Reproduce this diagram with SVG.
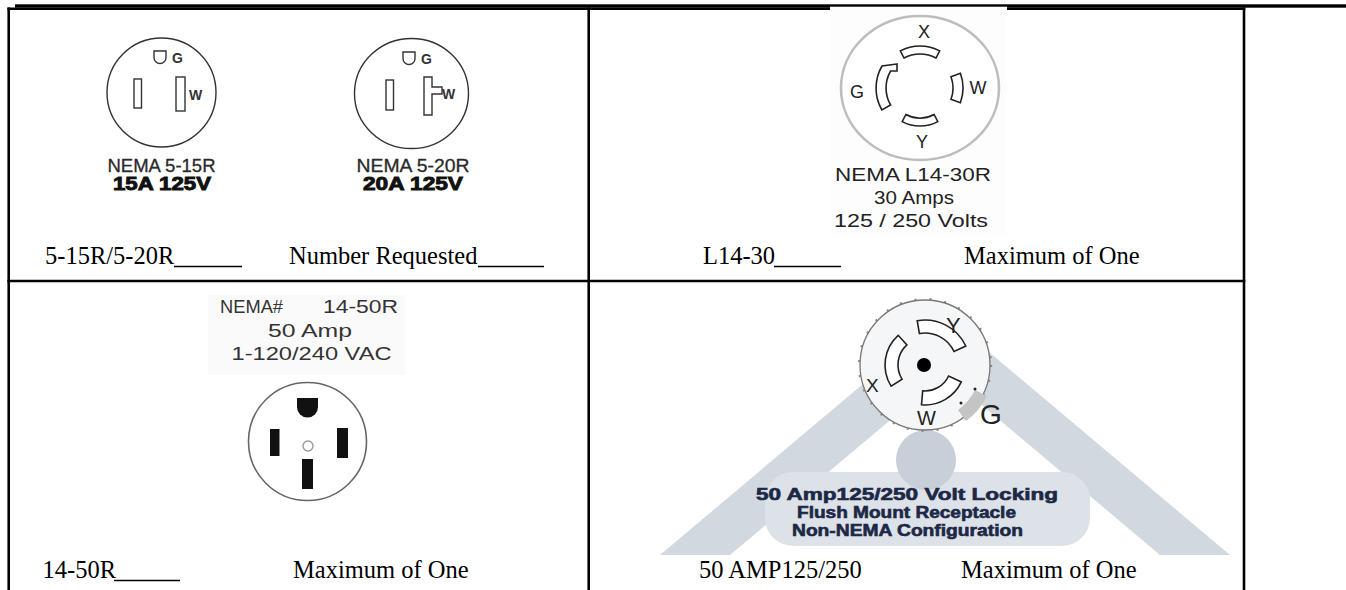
<svg xmlns="http://www.w3.org/2000/svg" width="1346" height="590" viewBox="0 0 1346 590">
<style>
.grid{stroke:#000;stroke-width:2.6;fill:none}
.ser{font-family:"Liberation Serif","Times New Roman",serif;font-size:24.5px;fill:#000}
.ul{stroke:#000;stroke-width:1.6}
.sans{font-family:"Liberation Sans",Arial,sans-serif}
.lbl{font-family:"Liberation Sans",Arial,sans-serif;font-weight:bold;font-size:14px;fill:#333}
.ol{fill:#fff;stroke:#333;stroke-width:1.4}
.blade{fill:#fff;stroke:#222;stroke-width:1.6}
.nema{font-family:"Liberation Sans",Arial,sans-serif;fill:#2a2a2a;stroke:#2a2a2a;stroke-width:0.3;font-size:18px}
.heavy{font-family:"Liberation Sans",Arial,sans-serif;font-weight:bold;fill:#111;stroke:#111;stroke-width:0.9;font-size:18px}
.navy{font-family:"Liberation Sans",Arial,sans-serif;font-weight:bold;fill:#1c2846;stroke:#1c2846;stroke-width:0.6;font-size:16px}
.gray{fill:#d2d8df}
</style>
<rect width="1346" height="590" fill="#fff"/>

<!-- table -->
<g id="table">
  <rect x="15" y="4.3" width="1331" height="3.4" fill="#000"/>
  <line class="grid" x1="7.4" y1="8.7" x2="1245.3" y2="8.7"/>
  <line class="grid" x1="8.7" y1="7.4" x2="8.7" y2="590"/>
  <line class="grid" x1="588.7" y1="7.4" x2="588.7" y2="590"/>
  <line class="grid" x1="1244" y1="7.4" x2="1244" y2="590"/>
  <line class="grid" x1="7.4" y1="281" x2="1245.3" y2="281"/>
</g>

<!-- cell 1: 5-15R / 5-20R -->
<g id="nema-5-15r">
  <circle class="ol" cx="161.5" cy="92.5" r="54.5"/>
  <path class="ol" d="M154,51 H166 V57.5 A6,6 0 0 1 154,57.5 Z"/>
  <text class="lbl" x="172" y="63">G</text>
  <rect class="ol" x="134" y="79" width="7.5" height="29"/>
  <rect class="ol" x="176" y="77" width="9" height="34"/>
  <text class="lbl" x="189" y="100">W</text>
  <text class="nema" x="161.5" y="172" text-anchor="middle" textLength="108" lengthAdjust="spacingAndGlyphs">NEMA 5-15R</text>
  <text class="heavy" x="162" y="190" text-anchor="middle" textLength="98" lengthAdjust="spacingAndGlyphs">15A 125V</text>
</g>
<g id="nema-5-20r">
  <ellipse class="ol" cx="411.5" cy="93.5" rx="57" ry="55"/>
  <path class="ol" d="M403,52 H415 V58.5 A6,6 0 0 1 403,58.5 Z"/>
  <text class="lbl" x="421" y="64">G</text>
  <rect class="ol" x="386" y="80" width="7.5" height="30"/>
  <path class="ol" d="M424,77 H432 V87 H442 V94 H432 V115 H424 Z"/>
  <text class="lbl" x="442" y="99">W</text>
  <text class="nema" x="413" y="172" text-anchor="middle" textLength="113" lengthAdjust="spacingAndGlyphs">NEMA 5-20R</text>
  <text class="heavy" x="413" y="190" text-anchor="middle" textLength="100" lengthAdjust="spacingAndGlyphs">20A 125V</text>
</g>
<g id="row1-left-text">
  <text class="ser" x="45" y="264">5-15R/5-20R</text>
  <line class="ul" x1="174" y1="266.5" x2="242" y2="266.5"/>
  <text class="ser" x="289" y="264">Number Requested</text>
  <line class="ul" x1="478" y1="266.5" x2="544" y2="266.5"/>
</g>

<!-- cell 2: L14-30R -->
<g id="nema-l14-30r">
  <rect x="830" y="6.7" width="177" height="229" fill="#fdfdfd"/>
  <ellipse cx="920" cy="88" rx="79" ry="72" fill="#fff" stroke="#bdbdbd" stroke-width="2.6"/>
  <path class="blade" d="M900.3,50.9 A42,42 0 0 1 939.7,50.9 L936,58 A34,34 0 0 0 904,58 Z"/>
  <path class="blade" d="M937.8,121.6 A38,38 0 0 1 902.2,121.6 L905.9,114.5 A30,30 0 0 0 934.1,114.5 Z"/>
  <path class="blade" d="M960.4,73.3 A43,43 0 0 1 960.4,102.7 L951,99.3 A33,33 0 0 0 951,76.7 Z"/>
  <path class="blade" d="M897,64 L882,66 A44,44 0 0 0 881.9,110 L890.6,105 A34,34 0 0 1 890.6,71 L897,71 Z"/>
  <g class="sans" font-size="18" fill="#222" text-anchor="middle">
    <text x="924" y="38">X</text>
    <text x="857" y="98">G</text>
    <text x="978" y="94">W</text>
    <text x="922" y="148">Y</text>
  </g>
  <g class="sans" font-size="18" fill="#222" text-anchor="middle">
    <text x="913" y="181" textLength="156" lengthAdjust="spacingAndGlyphs">NEMA L14-30R</text>
    <text x="914" y="204" textLength="80" lengthAdjust="spacingAndGlyphs">30 Amps</text>
    <text x="911" y="227" textLength="154" lengthAdjust="spacingAndGlyphs">125 / 250 Volts</text>
  </g>
</g>
<g id="row1-right-text">
  <text class="ser" x="703" y="264">L14-30</text>
  <line class="ul" x1="774" y1="266.5" x2="841" y2="266.5"/>
  <text class="ser" x="964" y="264">Maximum of One</text>
</g>

<!-- cell 3: 14-50R -->
<g id="nema-14-50r">
  <rect x="208" y="295" width="197" height="80" fill="#fafafa"/>
  <g class="sans" font-size="19" fill="#333">
    <text x="220" y="313" textLength="63" lengthAdjust="spacingAndGlyphs">NEMA#</text>
    <text x="323" y="313" textLength="75" lengthAdjust="spacingAndGlyphs">14-50R</text>
    <text x="310" y="337" text-anchor="middle" textLength="84" lengthAdjust="spacingAndGlyphs">50 Amp</text>
    <text x="311.5" y="360" text-anchor="middle" textLength="160" lengthAdjust="spacingAndGlyphs">1-120/240 VAC</text>
  </g>
  <circle cx="307.5" cy="441.5" r="59" fill="#fff" stroke="#666" stroke-width="1.6"/>
  <path d="M297,398 H318 V407 A10.5,10.5 0 0 1 297,407 Z" fill="#111"/>
  <rect x="270" y="429" width="9.5" height="27" fill="#111"/>
  <rect x="337" y="428" width="11" height="30" fill="#111"/>
  <rect x="302" y="459" width="11" height="30" fill="#111"/>
  <circle cx="308" cy="446" r="5" fill="#fff" stroke="#999" stroke-width="1.4"/>
</g>
<g id="row2-left-text">
  <text class="ser" x="42.5" y="578">14-50R</text>
  <line class="ul" x1="114" y1="580.5" x2="180" y2="580.5"/>
  <text class="ser" x="293" y="578">Maximum of One</text>
</g>

<!-- cell 4: 50 amp locking -->
<g id="locking-50a">
  <polygon class="gray" points="945,315 1230,555 660,555"/>
  <polygon fill="#fff" points="945,374 1160,555 730,555"/>
  <rect x="765" y="472" width="325" height="74" rx="28" fill="#dde2e8"/>
  <circle cx="926" cy="460" r="30" fill="#c8cfd8"/>
  <circle cx="925" cy="365" r="66" fill="none" stroke="#8a8a8a" stroke-width="2.2" stroke-dasharray="2 13"/>
  <circle cx="925" cy="365" r="65" fill="#f5f6f7" stroke="#777" stroke-width="1.3"/>
  <path d="M958,410 A56,56 0 0 0 975,390 L987,396 A67,67 0 0 1 966,421 Z" fill="#c4c4c4"/>
  <path class="blade" stroke-width="1.2" d="M917.2,320.7 A45,45 0 0 1 965.8,346 L954,351.5 A32,32 0 0 0 919.4,333.5 Z"/>
  <path class="blade" stroke-width="1.2" d="M898.2,335.3 A40,40 0 0 0 891.1,386.2 L902.1,379.3 A27,27 0 0 1 906.9,344.9 Z"/>
  <path class="blade" stroke-width="1.2" d="M961.3,381.9 A40,40 0 0 1 921.5,404.8 L922.7,390.9 A26,26 0 0 0 948.6,376 Z"/>
  <circle cx="924" cy="365" r="7" fill="#000"/>
  <circle cx="975" cy="389" r="1.5" fill="#222"/>
  <circle cx="961" cy="403" r="1.5" fill="#222"/>
  <g class="sans" fill="#222">
    <text x="866" y="392" font-size="19">X</text>
    <text x="946" y="333" font-size="22">Y</text>
    <text x="917" y="425" font-size="20">W</text>
    <text x="980" y="424" font-size="28">G</text>
  </g>
  <text class="navy" x="907" y="500" text-anchor="middle" textLength="302" lengthAdjust="spacingAndGlyphs">50 Amp125/250 Volt Locking</text>
  <text class="navy" x="906.5" y="518" text-anchor="middle" textLength="219" lengthAdjust="spacingAndGlyphs">Flush Mount Receptacle</text>
  <text class="navy" x="907.5" y="536" text-anchor="middle" textLength="231" lengthAdjust="spacingAndGlyphs">Non-NEMA Configuration</text>
</g>
<g id="row2-right-text">
  <text class="ser" x="699" y="578">50 AMP125/250</text>
  <text class="ser" x="961" y="578">Maximum of One</text>
</g>
</svg>
